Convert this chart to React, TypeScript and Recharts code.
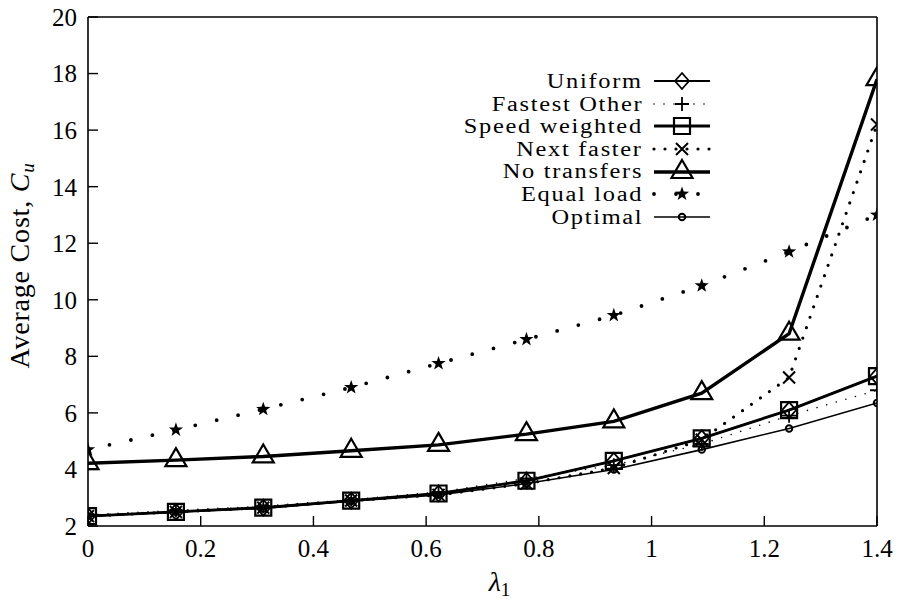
import React from 'react';
import { LineChart, Line, XAxis, YAxis, Legend } from 'recharts';

const lambda1 = [0, 0.156, 0.311, 0.467, 0.622, 0.778, 0.933, 1.089, 1.244, 1.4];
const uniform = [2.35, 2.5, 2.65, 2.9, 3.15, 3.6, 4.3, 5.1, 6.1, 7.3];
const fastestOther = [2.4, 2.55, 2.7, 2.93, 3.2, 3.68, 4.15, 4.9, 5.9, 6.8];
const speedWeighted = [2.35, 2.5, 2.65, 2.9, 3.15, 3.6, 4.3, 5.1, 6.1, 7.3];
const nextFaster = [2.35, 2.5, 2.65, 2.9, 3.1, 3.5, 4.05, 5.05, 7.25, 16.2];
const noTransfers = [4.22, 4.33, 4.46, 4.66, 4.87, 5.25, 5.7, 6.7, 8.8, 17.8];
const equalLoad = [4.7, 5.4, 6.13, 6.9, 7.75, 8.6, 9.45, 10.5, 11.7, 13.0];
const optimal = [2.35, 2.5, 2.62, 2.88, 3.1, 3.5, 4.0, 4.7, 5.45, 6.35];

const xTicks = [0, 0.2, 0.4, 0.6, 0.8, 1, 1.2, 1.4];
const yTicks = [2, 4, 6, 8, 10, 12, 14, 16, 18, 20];

const FONT = '"Liberation Serif", "Times New Roman", serif';

const data = lambda1.map((x, i) => ({
  x,
  uniform: uniform[i],
  fastestOther: fastestOther[i],
  speedWeighted: speedWeighted[i],
  nextFaster: nextFaster[i],
  noTransfers: noTransfers[i],
  equalLoad: equalLoad[i],
  optimal: optimal[i],
}));

type MarkerFn = (cx: number, cy: number, key?: string) => React.ReactElement;

const diamond: MarkerFn = (cx, cy, key) => (
  <path key={key} d={`M${cx},${cy - 8}L${cx + 7},${cy}L${cx},${cy + 8}L${cx - 7},${cy}Z`} fill="none" stroke="#000" strokeWidth={1.8} />
);
const plus: MarkerFn = (cx, cy, key) => (
  <path key={key} d={`M${cx - 7},${cy}H${cx + 7}M${cx},${cy - 7}V${cy + 7}`} fill="none" stroke="#000" strokeWidth={1.8} />
);
const square: MarkerFn = (cx, cy, key) => (
  <path key={key} d={`M${cx - 8},${cy - 8}h16v16h-16Z`} fill="none" stroke="#000" strokeWidth={2.2} />
);
const cross: MarkerFn = (cx, cy, key) => (
  <path key={key} d={`M${cx - 6},${cy - 6}L${cx + 6},${cy + 6}M${cx + 6},${cy - 6}L${cx - 6},${cy + 6}`} fill="none" stroke="#000" strokeWidth={2} />
);
const triangle: MarkerFn = (cx, cy, key) => (
  <path key={key} d={`M${cx},${cy - 12}L${cx + 10.5},${cy + 6}L${cx - 10.5},${cy + 6}Z`} fill="none" stroke="#000" strokeWidth={2.2} />
);
const star: MarkerFn = (cx, cy, key) => {
  const pts: string[] = [];
  for (let k = 0; k < 10; k++) {
    const r = k % 2 === 0 ? 7.5 : 3;
    const a = -Math.PI / 2 + (k * Math.PI) / 5;
    pts.push(`${cx + r * Math.cos(a)},${cy + r * Math.sin(a)}`);
  }
  return <polygon key={key} points={pts.join(' ')} fill="#000" stroke="none" />;
};
const circle: MarkerFn = (cx, cy, key) => (
  <circle key={key} cx={cx} cy={cy} r={3.2} fill="none" stroke="#000" strokeWidth={2} />
);

const series = [
  { key: 'uniform', name: 'Uniform', width: 1.8, dash: undefined as string | undefined, marker: diamond },
  { key: 'fastestOther', name: 'Fastest Other', width: 1.6, dash: '0 10', marker: plus },
  { key: 'speedWeighted', name: 'Speed weighted', width: 2.8, dash: undefined, marker: square },
  { key: 'nextFaster', name: 'Next faster', width: 3.2, dash: '0 11', marker: cross },
  { key: 'noTransfers', name: 'No transfers', width: 3.4, dash: undefined, marker: triangle },
  { key: 'equalLoad', name: 'Equal load', width: 3.8, dash: '0 22', marker: star },
  { key: 'optimal', name: 'Optimal', width: 1.6, dash: undefined, marker: circle },
];

const ROW = 22.6;

const LegendContent = () => (
  <div style={{ fontFamily: FONT, fontSize: 20, color: '#000', letterSpacing: 1.4 }}>
    {series.map((s) => (
      <div key={s.key} style={{ display: 'flex', alignItems: 'center', height: ROW }}>
        <div style={{ width: 203, textAlign: 'right', lineHeight: `${ROW}px`, height: ROW, whiteSpace: 'nowrap' }}>
          <span style={{ display: 'inline-block', transform: 'scaleX(1.22)', transformOrigin: '100% 50%' }}>{s.name}</span>
        </div>
        <svg width={60} height={22} style={{ marginLeft: 11, overflow: 'visible' }}>
          <line x1={0} y1={11} x2={56} y2={11} stroke="#000" strokeWidth={s.width} strokeDasharray={s.dash} strokeLinecap={s.dash ? 'round' : 'butt'} />
          {s.marker(28, 11)}
        </svg>
      </div>
    ))}
  </div>
);

const YLabel = (props: any) => {
  const vb = props.viewBox || { x: 0, y: 0, width: 0, height: 0 };
  const cx = 29;
  const cy = vb.y + vb.height / 2 - 6;
  return (
    <text x={cx} y={cy} transform={`rotate(-90 ${cx} ${cy})`} textAnchor="middle" fontFamily={FONT} fontSize={28} letterSpacing={0.8} fill="#000">
      Average Cost, <tspan fontStyle="italic">C</tspan>
      <tspan fontStyle="italic" fontSize={19} dy={5}>u</tspan>
    </text>
  );
};

const XLabel = (props: any) => {
  const vb = props.viewBox || { x: 0, y: 0, width: 0, height: 0 };
  const cx = vb.x + vb.width / 2 + 17;
  return (
    <text x={cx} y={591} textAnchor="middle" fontFamily={FONT} fontSize={28} fill="#000">
      <tspan fontStyle="italic">λ</tspan>
      <tspan fontSize={19} dy={5}>1</tspan>
    </text>
  );
};

const tickStyle = { fontFamily: FONT, fontSize: 25, fill: '#000' };

export default function App() {
  return (
    <div style={{ position: 'absolute', left: 0, top: 0, width: 900, height: 599, background: '#fff' }}>
      <LineChart width={900} height={599} data={data} margin={{ top: 16, right: 22, bottom: 33, left: 28 }}>
        <XAxis
          dataKey="x"
          type="number"
          domain={[0, 1.4]}
          ticks={xTicks}
          tickSize={-10}
          tickMargin={23}
          height={40}
          axisLine={{ stroke: '#000', strokeWidth: 1.6 }}
          tickLine={{ stroke: '#000', strokeWidth: 1.4 }}
          tick={tickStyle}
          allowDataOverflow
          label={<XLabel />}
        />
        <XAxis
          xAxisId="top"
          orientation="top"
          type="number"
          domain={[0, 1.4]}
          ticks={xTicks}
          tickSize={-10}
          height={1}
          axisLine={{ stroke: '#000', strokeWidth: 1.6 }}
          tickLine={{ stroke: '#000', strokeWidth: 1.4 }}
          tick={false}
          allowDataOverflow
        />
        <YAxis
          type="number"
          domain={[2, 20]}
          ticks={yTicks}
          tickSize={-10}
          tickMargin={21}
          width={60}
          axisLine={{ stroke: '#000', strokeWidth: 1.6 }}
          tickLine={{ stroke: '#000', strokeWidth: 1.4 }}
          tick={tickStyle}
          allowDataOverflow
          label={<YLabel />}
        />
        <YAxis
          yAxisId="right"
          orientation="right"
          type="number"
          domain={[2, 20]}
          ticks={yTicks}
          tickSize={-10}
          width={1}
          axisLine={{ stroke: '#000', strokeWidth: 1.6 }}
          tickLine={{ stroke: '#000', strokeWidth: 1.4 }}
          tick={false}
          allowDataOverflow
        />
        <Legend
          verticalAlign="middle"
          align="center"
          layout="vertical"
          wrapperStyle={{ position: 'absolute', left: 440, top: 70, width: 290 }}
          content={<LegendContent />}
        />
        {series.map((s) => (
          <Line
            key={s.key}
            dataKey={s.key}
            name={s.name}
            type="linear"
            stroke="#000"
            strokeWidth={s.width}
            strokeDasharray={s.dash}
            strokeLinecap={s.dash ? 'round' : 'butt'}
            isAnimationActive={false}
            activeDot={false}
            dot={(p: any) => s.marker(p.cx, p.cy, `${s.key}-${p.index}`)}
          />
        ))}
      </LineChart>
    </div>
  );
}
